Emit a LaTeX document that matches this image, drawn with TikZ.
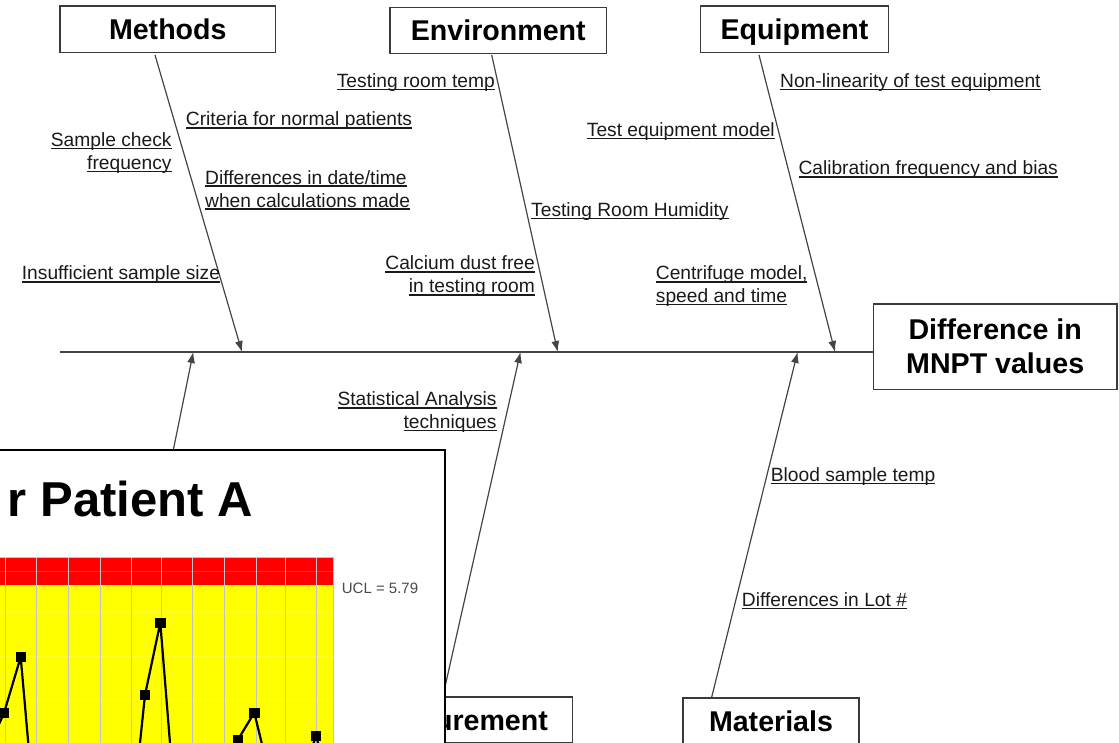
\documentclass[tikz,border=0pt]{standalone}
\usepackage{fontspec}
\setmainfont{Liberation Sans}
\usetikzlibrary{arrows.meta,calc}

\definecolor{boxgray}{HTML}{3A3A3A}
\definecolor{bonegray}{HTML}{444444}
\definecolor{txtc}{HTML}{1A1A1A}
\definecolor{chartred}{HTML}{FF0000}
\definecolor{chartyel}{HTML}{FFFF00}
\definecolor{gridgray}{HTML}{C4C4C4}
\definecolor{uclgray}{HTML}{4A4A4A}

\newcommand\lblfont{\fontsize{19.2}{23}\selectfont}
\newcommand\hdfont{\fontsize{28.6}{34}\selectfont\bfseries}
% underlined cause label: rule at a fixed depth under the baseline
\newcommand\ulbl[1]{\setbox0=\hbox{#1}\rlap{\color{txtc}\vrule width\wd0 height -1.3pt depth 2.8pt}\box0}

\begin{document}
\begin{tikzpicture}[x=1pt,y=-1pt,
  catbox/.style={draw=boxgray,line width=1.4pt,fill=white,font=\hdfont,inner sep=0pt},
  onecap/.style={text height=20.5pt,text depth=0pt},
  lbl/.style={font=\lblfont,inner sep=0pt,text=txtc},
  bone/.style={draw=bonegray,line width=1.2pt,-{Latex[length=11pt,width=8pt]}},
  spine/.style={draw=bonegray,line width=1.5pt},
  chartgrid/.style={draw=gridgray,line width=1pt},
  chartline/.style={line width=2.2pt,black,line join=round},
]
\useasboundingbox (0,0) rectangle (1119,743);
\clip (0,0) rectangle (1119,743);

% ---- effect and spine ----
\node[catbox,align=center,minimum width=243.7,minimum height=85.3] (effect) at (995.2,346.7)
  {Difference in\\MNPT values};
\coordinate (spineL) at (60,352);
\draw[spine] (spineL) -- (spineL -| effect.west);

% ---- category boxes ----
\node[catbox,onecap,minimum width=215.7,minimum height=46.3] (methods) at (167.8,29.2) {Methods};
\node[catbox,onecap,minimum width=216.7,minimum height=46]   (environment) at (498.3,30.3) {Environment};
\node[catbox,onecap,minimum width=187.6,minimum height=46.3] (equipment) at (794.5,29.2) {Equipment};
\node[catbox,onecap,minimum width=234,minimum height=46]     (measurement) at (455.7,720) {Measurement};
\node[catbox,onecap,minimum width=176,minimum height=46]     (materials) at (771,721) {Materials};

% ---- bones ----
\coordinate (mthS) at (155,55);       \coordinate (mthE) at (242,352);
\coordinate (envS) at (491.7,55);     \coordinate (envE) at (557.7,352);
\coordinate (eqpS) at (759,55);       \coordinate (eqpE) at (835,352);
\coordinate (meaS) at (442.7,697);    \coordinate (meaE) at (520.5,352);
\coordinate (matS) at (711.7,697);    \coordinate (matE) at (797.6,352);
\coordinate (lowS) at (159,520);      \coordinate (lowE) at (193.3,352);
\draw[bone] (mthS) -- (mthE);
\draw[bone] (envS) -- (envE);
\draw[bone] (eqpS) -- (eqpE);
\draw[bone] (meaS) -- (meaE);
\draw[bone] (matS) -- (matE);
\draw[bone] (lowS) -- (lowE);

% ---- causes: Methods ----
\node[lbl,anchor=base east] (sc1) at (171.7,146.5) {\ulbl{Sample check}};
\node[lbl,anchor=base east] (sc2) at (171.7,169.5) {\ulbl{frequency}};
\node[lbl,anchor=base west] (crit) at (185.7,125.8) {\ulbl{Criteria for normal patients}};
\node[lbl,anchor=base west] (dd1) at (205,184.2) {\ulbl{Differences in date/time}};
\node[lbl,anchor=base west] (dd2) at (205,207.2) {\ulbl{when calculations made}};
\node[lbl,anchor=base west] (ins) at (21.7,279.8) {\ulbl{Insufficient sample size}};

% ---- causes: Environment ----
\node[lbl,anchor=base east] (trt) at (495,87.5) {\ulbl{Testing room temp}};
\node[lbl,anchor=base west] (trh) at (531,216.5) {\ulbl{Testing Room Humidity}};
\node[lbl,anchor=base east] (cd1) at (535,269.8) {\ulbl{Calcium dust free}};
\node[lbl,anchor=base east] (cd2) at (535,293) {\ulbl{in testing room}};

% ---- causes: Equipment ----
\node[lbl,anchor=base west] (tem) at (586.7,136.5) {\ulbl{Test equipment model}};
\node[lbl,anchor=base west] (nlt) at (780,87.5) {\ulbl{Non-linearity of test equipment}};
\node[lbl,anchor=base west] (cal) at (798.3,174.8) {\ulbl{Calibration frequency and bias}};
\node[lbl,anchor=base west] (cf1) at (655.7,279.8) {\ulbl{Centrifuge model,}};
\node[lbl,anchor=base west] (cf2) at (655.7,302.5) {\ulbl{speed and time}};

% ---- causes: Measurement ----
\node[lbl,anchor=base east] (sa1) at (496.7,405.8) {\ulbl{Statistical Analysis}};
\node[lbl,anchor=base east] (sa2) at (496.7,428.2) {\ulbl{techniques}};

% ---- causes: Materials ----
\node[lbl,anchor=base west] (bst) at (770.7,481.5) {\ulbl{Blood sample temp}};
\node[lbl,anchor=base west] (lot) at (741.7,606.5) {\ulbl{Differences in Lot \#}};

% ---- control chart panel laid over the lower left ----
\path[fill=white] (-10,450) rectangle (445,760);
\begin{scope}
  \clip (-10,450) rectangle (445,760);
  \fill[chartyel] (-10,585) rectangle (333,760);
  \fill[chartred] (-10,557) rectangle (333,585);
  \foreach \gy in {571.7,612.7,656.7,699.3}
    \draw[white,opacity=0.18,line width=1pt] (-10,\gy) -- (333,\gy);
  \foreach \gx in {5,36.6,68.2,100,131.6,161.6,192.6,224.2,256,285.6,316.6}
    \draw[chartgrid] (\gx,557) -- (\gx,760);
  \draw[chartgrid] (-10,557) -- (333,557) -- (333,760);
  \draw[chartline] (-11.6,748) -- (4,713) -- (20.7,657) -- (35.3,823) -- (51,800)
    -- (66.6,810) -- (82.3,790) -- (97.9,805) -- (113.6,800) -- (129.2,846)
    -- (145,695) -- (160.3,622.7) -- (176.2,820) -- (191.8,800) -- (207.5,790)
    -- (222,775) -- (237.7,740) -- (254.3,712.7) -- (270,777) -- (285.6,790)
    -- (301.2,780) -- (316,736) -- (332,790);
  % data point markers
  \foreach \px/\py in {4/713,20.7/657,145/695,160.3/622.7,237.7/740,254.3/712.7,316/736}
    \fill[black] (\px-5.2,\py-5.2) rectangle (\px+5.2,\py+5.2);
\end{scope}
\draw[black,line width=2pt] (-10,450) -- (445,450) -- (445,760);
\node[inner sep=0pt,anchor=base east,font=\fontsize{49}{55}\selectfont\bfseries] (ctitle)
  at (253,516.7) {r Patient A};
\node[inner sep=0pt,anchor=west,text=uclgray,font=\fontsize{15}{18}\selectfont] (ucl)
  at (341.7,588.3) {UCL = 5.79};
\end{tikzpicture}
\end{document}
